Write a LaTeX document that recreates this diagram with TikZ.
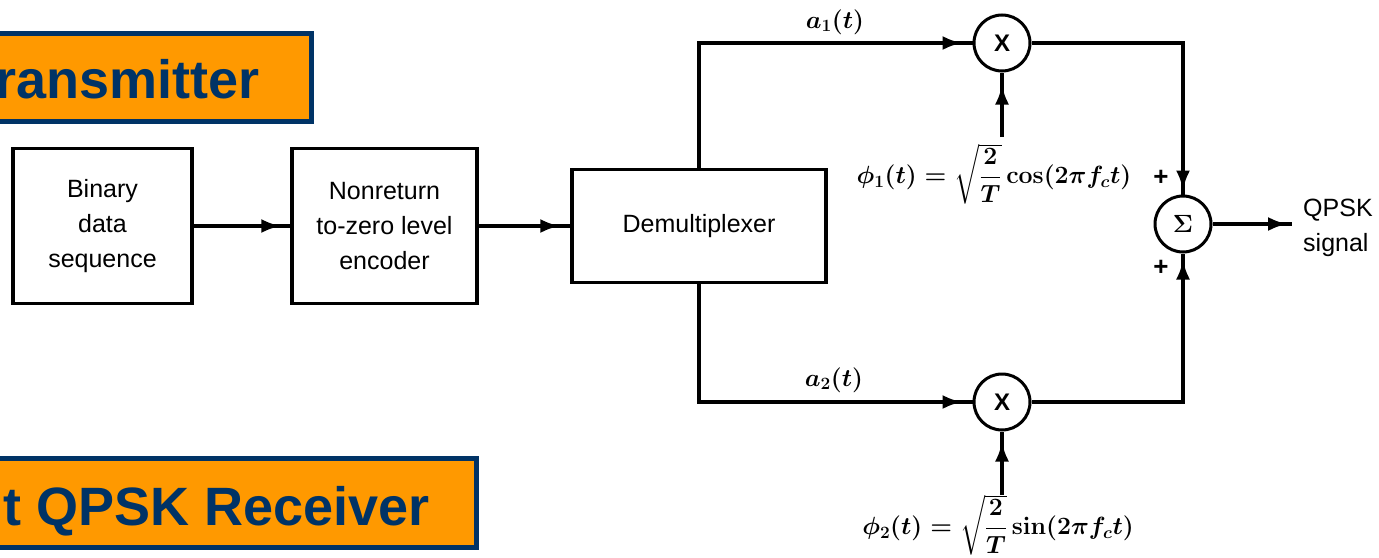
\documentclass[tikz,border=0pt]{standalone}
\usepackage{amsmath}
\usepackage[no-math]{fontspec}
\setmainfont{Liberation Sans}
\usetikzlibrary{arrows.meta,decorations.markings}
\definecolor{tborange}{HTML}{FF9900}
\definecolor{tbblue}{HTML}{003366}
\begin{document}
\begin{tikzpicture}[x=1pt,y=-1pt,
  blk/.style={draw, line width=3.5pt, align=center, font=\fontsize{25}{35}\selectfont, inner sep=0pt},
  mult/.style={circle, draw, line width=3pt, minimum size=56pt, inner sep=0pt, font=\fontsize{24}{24}\selectfont\bfseries},
  wire/.style={line width=4pt},
  tipat/.style={postaction={decorate}, decoration={markings, mark=at position #1 with {\arrow{Latex[length=20pt,width=14pt]}}}},
  titlebox/.style={draw=tbblue, fill=tborange, line width=5pt},
  titletext/.style={text=tbblue, font=\fontsize{54}{60}\selectfont\bfseries, inner sep=0pt},
  mathlbl/.style={font=\fontsize{26}{26}\selectfont\boldmath, inner sep=0pt},
  lbl/.style={font=\fontsize{25}{35}\selectfont, align=left, inner sep=0pt}
]
\useasboundingbox (0,0) rectangle (1379,557);
\clip (0,0) rectangle (1379,557);
\fill[white] (0,0) rectangle (1379,557);

% title boxes
\node[titlebox, minimum width=330pt, minimum height=88pt, inner sep=0pt] (tbox) at (146,77) {};
\node[titletext, anchor=base east] (ttext) at (260,98) {Transmitter};
\node[titlebox, minimum width=496pt, minimum height=89pt, inner sep=0pt] (rbox) at (228,503) {};
\node[titletext, anchor=base east] (rtext) at (430,525) {Coherent QPSK Receiver};

% blocks
\node[blk, minimum width=179pt, minimum height=155pt] (bin) at (102.5,226) {Binary\\data\\sequence};
\node[blk, minimum width=185pt, minimum height=155pt] (nrz) at (384.5,226) {Nonreturn\\to-zero level\\encoder};
\node[blk, minimum width=254pt, minimum height=113pt] (dmx) at (699,226) {Demultiplexer};

\node[mult] (m1) at (1002,43) {X};
\node[mult] (m2) at (1002,402) {X};
\node[mult] (sum) at (1183,224) {$\boldsymbol{\Sigma}$};

\node[lbl, anchor=west] (out) at (1303,228) {QPSK\\signal};
\coordinate (oend) at (1292,224);

\coordinate (c1) at (1002,137);
\coordinate (c2) at (1002,495);

% labels
\node[mathlbl] (a1) at (835,22) {$a_1(t)$};
\node[mathlbl] (a2) at (834,380) {$a_2(t)$};
\node[mathlbl] (p1) at (994,174) {$\phi_1(t)=\sqrt{\dfrac{2}{T}}\cos(2\pi f_c t)$};
\node[mathlbl] (p2) at (998,525) {$\phi_2(t)=\sqrt{\dfrac{2}{T}}\sin(2\pi f_c t)$};
\node[font=\fontsize{26}{26}\selectfont\bfseries, inner sep=0pt] (pl1) at (1161,178) {+};
\node[font=\fontsize{26}{26}\selectfont\bfseries, inner sep=0pt] (pl2) at (1161,268) {+};

% connectors
\draw[wire, tipat=-9pt] (bin) -- (nrz);
\draw[wire, tipat=-10pt] (nrz) -- (dmx);
\draw[wire, tipat=-10pt] (dmx.north) |- (m1);
\draw[wire, tipat=-10pt] (dmx.south) |- (m2);
\draw[wire, tipat=-12pt] (c1) -- (m1);
\draw[wire, tipat=-10pt] (c2) -- (m2);
\draw[wire, tipat=-4pt] (m1) -| (sum);
\draw[wire, tipat=-6pt] (m2) -| (sum);
\draw[wire, tipat=-4pt] (sum) -- (oend);
\end{tikzpicture}
\end{document}
